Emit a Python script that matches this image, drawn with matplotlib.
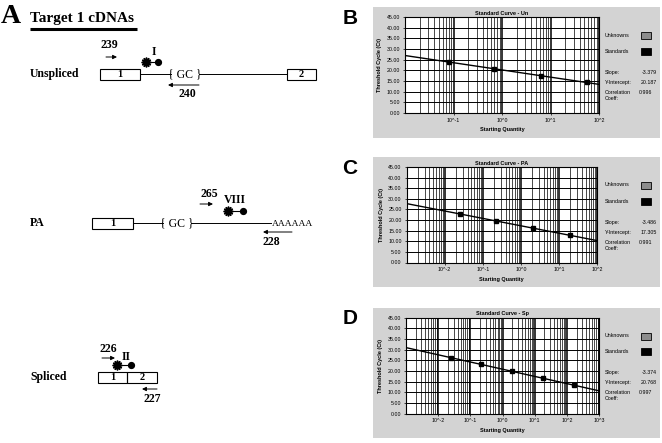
"""
Target 1 cDNAs: schematic of primers/probes (A) and real-time PCR
standard curves for the three transcript forms (B-D).
"""

import matplotlib
matplotlib.use("Agg")
import matplotlib.pyplot as plt
from matplotlib.patches import Rectangle
import numpy as np

W, H = 662, 443

# ---- standard curve data ----
panel_letters = ["B", "C", "D"]
panel_titles = ["Standard Curve - Un", "Standard Curve - PA", "Standard Curve - Sp"]
b_qty = [0.08, 0.7, 6.5, 56]
b_ct = [23.9, 20.7, 17.4, 14.3]
c_qty = [0.025, 0.23, 2.1, 20]
c_ct = [22.9, 19.5, 16.2, 12.8]
d_qty = [0.025, 0.22, 2.0, 17.6, 166]
d_ct = [26.2, 23.0, 19.8, 16.6, 13.3]
slopes = [-3.379, -3.486, -3.374]
intercepts = [20.187, 17.305, 20.768]
corr_coeffs = [0.996, 0.991, 0.997]
x_decades = [(-2, 2), (-3, 2), (-3, 3)]
y_ticks = [0, 5, 10, 15, 20, 25, 30, 35, 40, 45]

# plot-area boxes in pixels: (left, right, top, bottom)
boxes = [(405, 599, 17, 113), (406.5, 597, 167, 262.5), (406, 599, 317.5, 413.5)]

fig = plt.figure(figsize=(W / 100, H / 100), dpi=100)
ax0 = fig.add_axes([0, 0, 1, 1])
ax0.set_xlim(0, W)
ax0.set_ylim(H, 0)
ax0.axis("off")

SERIF = "Liberation Serif"
SANS = "Liberation Sans"
GRAY_BG = "#d3d3d3"

# ---------------- panel A ----------------
ax0.text(1, 23, "A", family=SERIF, weight="bold", fontsize=20, va="baseline")
ax0.text(30, 22, "Target 1 cDNAs", family=SERIF, weight="bold", fontsize=11,
         va="baseline")
ax0.plot([30, 137], [29, 29], color="black", lw=2.2, solid_capstyle="butt")


def exon(x0, x1, y, label):
    ax0.add_patch(Rectangle((x0, y - 5.5), x1 - x0, 11, fill=False,
                            edgecolor="black", lw=0.8))
    ax0.text((x0 + x1) / 2, y + 0.5, label, family=SERIF, weight="bold",
             fontsize=7.5, ha="center", va="center")


def primer(x0, x1, y, label, lx, ly):
    ax0.annotate("", xy=(x1, y), xytext=(x0, y),
                 arrowprops=dict(arrowstyle="-|>", lw=0.7, color="black",
                                 mutation_scale=6, shrinkA=0, shrinkB=0))
    ax0.text(lx, ly, label, family=SERIF, weight="bold", fontsize=8.5,
             ha="center", va="center")


def probe(xs, xd, y, label, lx, ly):
    ax0.plot([xs, xd], [y, y], color="black", lw=0.8)
    ax0.plot(xs, y, marker=(12, 1, 0), ms=7, color="black", mec="black")
    ax0.plot(xd, y, "o", ms=4.2, color="black")
    ax0.text(lx, ly, label, family=SERIF, weight="bold", fontsize=8.5,
             ha="center", va="center")


def label_row(text, y):
    ax0.text(30, y, text, family=SERIF, weight="bold", fontsize=8.5, va="center")


# Unspliced
label_row("Unspliced", 74)
exon(100, 140, 74, "1")
ax0.plot([140, 171], [74, 74], color="black", lw=0.7)
ax0.text(185, 74, "{ GC }", family=SERIF, fontsize=8.5, ha="center", va="center")
ax0.plot([199, 287], [74, 74], color="black", lw=0.7)
exon(287, 316, 74, "2")
primer(106, 117, 57, "239", 109, 45)
probe(146, 158, 62, "I", 154, 52)
primer(199, 168, 85, "240", 187, 94)

# PA
label_row("PA", 223)
exon(92, 133, 223, "1")
ax0.plot([133, 163], [223, 223], color="black", lw=0.7)
ax0.text(177, 223, "{ GC }", family=SERIF, fontsize=8.5, ha="center", va="center")
ax0.plot([191, 271], [223, 223], color="black", lw=0.7)
ax0.text(272, 223.5, "AAAAAA", family=SERIF, fontsize=6.8, ha="left", va="center")
primer(200, 213, 204, "265", 209, 194)
probe(228, 243, 211, "VIII", 235, 200)
primer(292, 263, 232, "228", 271, 242)

# Spliced
label_row("Spliced", 377)
exon(98, 127, 377, "1")
exon(127, 157, 377, "2")
primer(102, 115, 358, "226", 108, 349)
probe(117, 131, 365, "II", 126, 357)
primer(157, 142, 389, "227", 152, 399)

# ---------------- panels B-D ----------------
qtys = [b_qty, c_qty, d_qty]
cts = [b_ct, c_ct, d_ct]

for i in range(3):
    x0, x1, y0, y1 = boxes[i]
    ax0.add_patch(Rectangle((373, y0 - 10), 287, (y1 - y0) + 34.5,
                            facecolor=GRAY_BG, edgecolor="none"))
    ax0.text(350, y0 + 1, panel_letters[i], family=SANS, weight="bold",
             fontsize=15, ha="center", va="center")

    ax = fig.add_axes([x0 / W, 1 - y1 / H, (x1 - x0) / W, (y1 - y0) / H])
    ax.set_facecolor("white")
    lo, hi = x_decades[i]
    ax.set_xscale("log")
    ax.set_xlim(10.0 ** lo, 10.0 ** hi)
    ax.set_ylim(0, 45)

    # log grid: thick decades, thinner minors
    for d in range(lo, hi):
        for m in range(2, 10):
            ax.axvline(m * 10.0 ** d, color="black", lw=0.5, zorder=1)
    for d in range(lo, hi + 1):
        ax.axvline(10.0 ** d, color="black", lw=1.1, zorder=1)
    for yv in y_ticks:
        ax.axhline(yv, color="black", lw=0.7, zorder=1)

    # fitted standard curve: Ct = slope * log10(qty) + intercept
    fit_x = np.array([10.0 ** lo, 10.0 ** hi])
    fit_y = slopes[i] * np.log10(fit_x) + intercepts[i]
    ax.plot(fit_x, fit_y, color="black", lw=1.0, zorder=3)
    ax.plot(qtys[i], cts[i], "s", ms=2.2, color="black", zorder=4)

    ax.set_yticks(y_ticks)
    ax.set_yticklabels([f"{v:.2f}" for v in y_ticks])
    major = [10.0 ** d for d in range(lo + 1, hi + 1)]
    ax.set_xticks(major)
    ax.set_xticklabels([f"10^{d}" for d in range(lo + 1, hi + 1)])
    ax.minorticks_off()
    ax.tick_params(labelsize=3.8, length=1.5, width=0.5, pad=2)
    for lbl in ax.get_xticklabels() + ax.get_yticklabels():
        lbl.set_family(SANS)
    for s in ax.spines.values():
        s.set_linewidth(0.8)

    ax.set_title(panel_titles[i], family=SANS, fontsize=4, weight="bold", pad=1.5)
    ax.set_xlabel("Starting Quantity", family=SANS, fontsize=4, weight="bold",
                  labelpad=3)
    ax.set_ylabel("Threshold Cycle (Ct)", family=SANS, fontsize=4,
                  weight="bold", labelpad=3)

    # legend / statistics block
    tx = 605
    ax0.text(tx, y0 + 18, "Unknowns", family=SANS, fontsize=3.8, va="center")
    ax0.add_patch(Rectangle((641, y0 + 15), 10, 7, facecolor="#8c8c8c",
                            edgecolor="black", lw=0.6))
    ax0.text(tx, y0 + 34, "Standards", family=SANS, fontsize=3.8, va="center")
    ax0.add_patch(Rectangle((641, y0 + 30.5), 10, 7, facecolor="black",
                            edgecolor="black", lw=0.6))
    ax0.text(tx, y0 + 55, "Slope:", family=SANS, fontsize=3.8, va="center")
    ax0.text(657, y0 + 55, f"{slopes[i]:.3f}", family=SANS, fontsize=3.8,
             va="center", ha="right")
    ax0.text(tx, y0 + 65, "Y-Intercept:", family=SANS, fontsize=3.8, va="center")
    ax0.text(657, y0 + 65, f"{intercepts[i]:.3f}", family=SANS, fontsize=3.8,
             va="center", ha="right")
    ax0.text(tx, y0 + 75.5, "Correlation", family=SANS, fontsize=3.8, va="center")
    ax0.text(tx, y0 + 81, "Coeff:", family=SANS, fontsize=3.8, va="center")
    ax0.text(652, y0 + 75.5, f"{corr_coeffs[i]:.3f}", family=SANS, fontsize=3.8,
             va="center", ha="right")

fig.savefig("out.png", dpi=100, facecolor="white")
